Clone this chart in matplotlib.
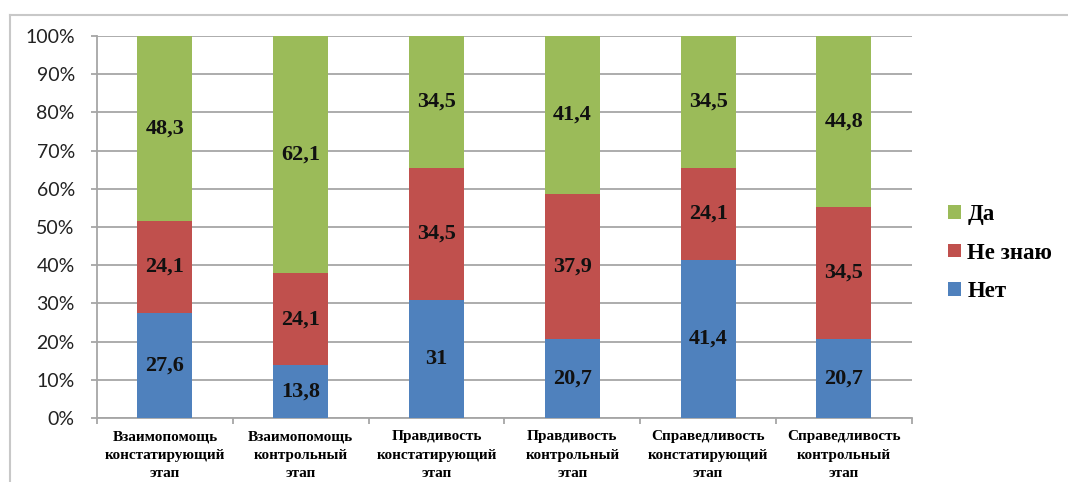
import matplotlib
matplotlib.use("Agg")
import matplotlib.pyplot as plt
from matplotlib.font_manager import FontProperties
from matplotlib.lines import Line2D
from matplotlib.ticker import FixedLocator, PercentFormatter, NullFormatter

categories = [
    "Взаимопомощь\nконстатирующий\nэтап",
    "Взаимопомощь\nконтрольный\nэтап",
    "Правдивость\nконстатирующий\nэтап",
    "Правдивость\nконтрольный\nэтап",
    "Справедливость\nконстатирующий\nэтап",
    "Справедливость\nконтрольный\nэтап",
]
series_names = ["Нет", "Не знаю", "Да"]
net = [27.6, 13.8, 31, 20.7, 41.4, 20.7]
ne_znayu = [24.1, 24.1, 34.5, 37.9, 24.1, 34.5]
da = [48.3, 62.1, 34.5, 41.4, 34.5, 44.8]
series_values = [net, ne_znayu, da]
colors = ["#4F81BD", "#C0504D", "#9BBB59"]
y_ticks = [0, 10, 20, 30, 40, 50, 60, 70, 80, 90, 100]

SERIF = "Liberation Serif"
SANS = "Lato"
GRID = "#A6A6A6"


def fmt(v):
    return f"{v:g}".replace(".", ",")


fig = plt.figure(figsize=(10.68, 4.82), dpi=100)
ax = fig.add_axes([0.0908, 0.1328, 0.763, 0.7925])

x = list(range(len(categories)))
bottoms = [0.0] * len(categories)
handles = []
for name, vals, col in zip(series_names, series_values, colors):
    bars = ax.bar(x, vals, width=0.405, bottom=bottoms, color=col,
                  edgecolor="none", zorder=3, label=name)
    for b, v, bt in zip(bars, vals, bottoms):
        ax.text(b.get_x() + b.get_width() / 2, bt + v / 2, fmt(v),
                ha="center", va="center", fontsize=16, fontweight="bold",
                family=SERIF, color="#111111", zorder=4)
    bottoms = [bt + v for bt, v in zip(bottoms, vals)]
    handles.append(bars)

ax.set_xlim(-0.5, len(categories) - 0.5)
ax.set_ylim(0, 100)
ax.yaxis.set_major_locator(FixedLocator(y_ticks))
ax.yaxis.set_major_formatter(PercentFormatter(decimals=0))
ax.grid(axis="y", color=GRID, linewidth=1.3, zorder=0)

# category boundaries carry the x ticks; names are placed under each bar
ax.set_xticks([i - 0.5 for i in range(len(categories) + 1)])
ax.xaxis.set_major_formatter(NullFormatter())
ax.tick_params(axis="x", length=4, color=GRID, width=1.3)
for xi, name in zip(x, categories):
    ax.annotate(name, xy=(xi, 0), xycoords=("data", "axes fraction"),
                xytext=(0, -9), textcoords="offset points",
                ha="center", va="top", family=SERIF, fontweight="bold",
                fontsize=11, linespacing=1.55, annotation_clip=False)

ax.tick_params(axis="y", length=4, color=GRID, width=1.3, pad=12,
               labelsize=14, labelcolor="#222222")
for lbl in ax.get_yticklabels():
    lbl.set_family(SANS)

for side in ("top", "right"):
    ax.spines[side].set_visible(False)
for side in ("left", "bottom"):
    ax.spines[side].set_color(GRID)
    ax.spines[side].set_linewidth(1.3)

# legend, listed top to bottom in reverse stacking order
legend_font = FontProperties(family=SERIF, weight="bold", size=16.5)
leg = fig.legend([handles[2], handles[1], handles[0]],
                 ["Да", "Не знаю", "Нет"],
                 loc="center left", bbox_to_anchor=(948 / 1068, 0.475),
                 frameon=False, borderpad=0, borderaxespad=0,
                 handlelength=0.55, handleheight=0.55,
                 handletextpad=0.3, labelspacing=0.75,
                 prop=legend_font)

# chart-area border
fig.add_artist(Line2D([10 / 1068, 10 / 1068], [0, 1 - 15 / 482],
                      transform=fig.transFigure, color="#C8C8C8", lw=1.5))
fig.add_artist(Line2D([10 / 1068, 1], [1 - 15 / 482, 1 - 15 / 482],
                      transform=fig.transFigure, color="#C8C8C8", lw=1.5))

fig.savefig("out.png", dpi=100, facecolor="white")
